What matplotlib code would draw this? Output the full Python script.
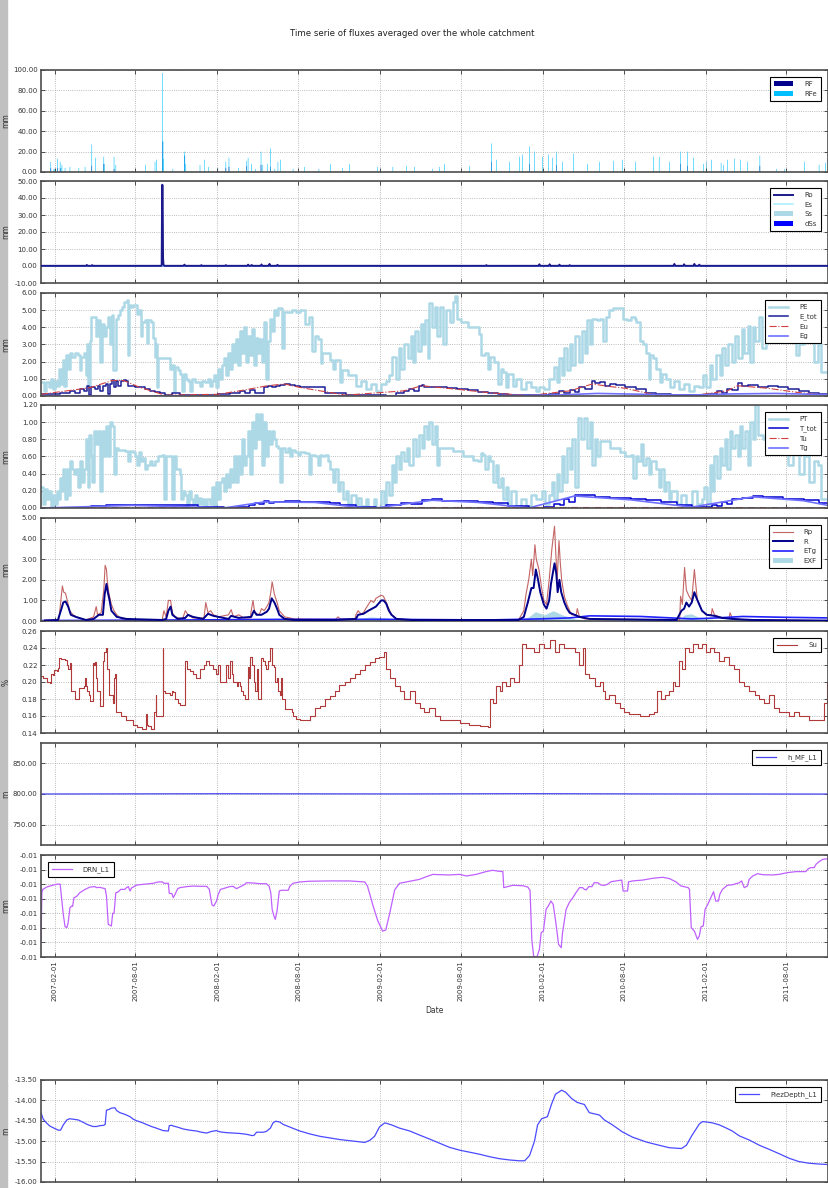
import numpy as np
import matplotlib
matplotlib.use('Agg')
import matplotlib.pyplot as plt
import matplotlib.dates as mdates
from matplotlib.ticker import FormatStrFormatter, MultipleLocator
from matplotlib.patches import Rectangle

# days are counted from the first day of the simulation
START = np.datetime64('2007-01-01')
END = np.datetime64('2011-11-03')

# --- rainfall (mm/day) ---
rfe_points = [(22, 10), (29, 3), (31, 3), (37, 13), (43, 10), (45, 4), (47, 7), (54, 4), (65, 5),
              (85, 4), (99, 5), (114, 27), (122, 14), (141, 15), (142, 8), (164, 15), (168, 7),
              (206, 1), (235, 7), (256, 10), (259, 12), (273, 97), (274, 30), (275, 13), (296, 3),
              (322, 20), (323, 16), (325, 8), (357, 7), (367, 12), (376, 5), (397, 4), (415, 10),
              (422, 14), (444, 4), (462, 11), (465, 14), (473, 8), (482, 3), (494, 20), (498, 7),
              (508, 8), (515, 23), (525, 3), (532, 10), (538, 12), (566, 3), (592, 5), (624, 3),
              (650, 8), (677, 4), (693, 8), (756, 5), (790, 5), (821, 6), (839, 5), (879, 3),
              (895, 5), (906, 8), (962, 6), (1012, 28), (1023, 12), (1052, 10), (1074, 15),
              (1081, 17), (1097, 25), (1108, 20), (1126, 15), (1139, 17), (1148, 14), (1157, 20),
              (1171, 10), (1196, 18), (1227, 8), (1254, 10), (1285, 11), (1305, 12), (1335, 10),
              (1375, 15), (1388, 15), (1411, 10), (1436, 20), (1451, 20), (1465, 14), (1487, 8),
              (1494, 10), (1505, 12), (1527, 9), (1532, 7), (1541, 12), (1557, 13), (1570, 12),
              (1586, 10), (1614, 16), (1651, 3), (1669, 3), (1714, 10), (1747, 7), (1761, 9)]
rf_points = [(22, 4), (37, 4), (43, 4), (114, 6), (141, 8), (164, 3), (273, 30), (322, 16),
             (415, 4), (422, 5), (462, 6), (494, 7), (515, 5), (1012, 10), (1097, 8), (1157, 7),
             (1436, 8), (1451, 6), (1614, 6)]

# --- surface fluxes ---
ro_points = [(0, 0.1), (101, 0.1), (103, 0.6), (105, 0.1), (113, 0.1), (115, 0.5), (117, 0.1),
             (270, 0.1), (271, 0.8), (272, 47.8), (273, 47.5), (274, 4.5), (275, 0.8), (277, 0.1),
             (320, 0.1), (322, 0.8), (324, 0.1), (358, 0.1), (360, 0.5), (362, 0.1), (413, 0.1),
             (415, 0.5), (417, 0.1), (463, 0.1), (465, 0.8), (467, 0.1), (471, 0.1), (473, 0.6),
             (475, 0.1), (493, 0.1), (495, 0.9), (497, 0.1), (511, 0.1), (513, 1.2), (515, 0.1),
             (529, 0.1), (531, 0.7), (533, 0.1), (998, 0.1), (1000, 0.5), (1002, 0.1), (1117, 0.1),
             (1119, 1.0), (1121, 0.1), (1140, 0.1), (1142, 1.0), (1144, 0.1), (1162, 0.1),
             (1164, 0.8), (1166, 0.1), (1185, 0.1), (1187, 0.5), (1189, 0.1), (1420, 0.1),
             (1422, 1.2), (1424, 0.1), (1442, 0.1), (1444, 1.0), (1446, 0.1), (1465, 0.1),
             (1467, 1.2), (1469, 0.1), (1476, 0.1), (1478, 0.8), (1480, 0.1), (1767, 0.1)]
es_points = [(0, 0.05), (272, 0.05), (273, 4.0), (275, 0.05), (1767, 0.05)]
ss_points = [(0, 0.15), (1767, 0.15)]
dss_points = [(0, -0.3), (1767, -0.3)]

# --- evaporation ---
pe_points = [(0, 0.8), (7, 0.3), (11, 0.8), (18, 0.5), (22, 1.0), (27, 0.4), (31, 0.9), (36, 0.6),
             (40, 1.6), (45, 0.7), (49, 2.1), (52, 0.6), (56, 2.4), (61, 1.6), (65, 2.5), (70, 2.3),
             (76, 2.5), (83, 2.4), (87, 1.5), (90, 2.3), (96, 2.5), (101, 1.2), (103, 3.0), (105, 0.5),
             (110, 3.2), (112, 4.6), (119, 4.6), (123, 3.5), (128, 4.4), (132, 2.0), (137, 4.2),
             (141, 3.5), (146, 4.0), (150, 4.6), (155, 3.0), (159, 4.7), (161, 1.5), (168, 4.5),
             (173, 4.7), (177, 5.0), (182, 5.2), (186, 5.5), (193, 5.6), (195, 2.4), (197, 5.3),
             (202, 5.2), (206, 5.3), (211, 5.3), (215, 4.8), (220, 5.0), (224, 3.5), (227, 4.3),
             (233, 4.4), (238, 3.1), (240, 4.4), (247, 4.3), (251, 3.4), (256, 2.3), (258, 3.0),
             (260, 0.5), (262, 2.2), (274, 2.2), (285, 2.2), (289, 1.6), (294, 1.8), (298, 0.3),
             (301, 1.7), (307, 1.5), (312, 1.3), (316, 0.3), (321, 1.3), (325, 1.0), (330, 0.9),
             (334, 0.3), (339, 1.0), (345, 0.8), (352, 0.8), (357, 0.6), (361, 0.9), (368, 0.8),
             (375, 1.0), (379, 0.6), (384, 0.9), (388, 1.2), (393, 0.5), (397, 1.6), (401, 1.0),
             (406, 1.8), (410, 2.2), (415, 1.2), (419, 2.5), (424, 1.6), (428, 3.0), (433, 2.0),
             (437, 3.3), (442, 1.8), (446, 3.8), (451, 2.5), (455, 4.0), (460, 2.0), (464, 3.5),
             (469, 2.4), (473, 3.9), (478, 1.8), (482, 3.4), (487, 2.5), (491, 3.3), (496, 2.0),
             (500, 4.3), (505, 1.0), (509, 3.2), (514, 4.5), (518, 3.8), (523, 5.0), (527, 4.7),
             (532, 5.1), (541, 2.8), (545, 4.9), (554, 4.9), (563, 5.0), (572, 4.9), (581, 5.0),
             (592, 4.2), (601, 4.6), (609, 2.6), (615, 3.5), (621, 3.3), (629, 1.9), (632, 2.5),
             (649, 2.1), (655, 1.6), (661, 2.1), (672, 0.8), (675, 1.5), (689, 1.2), (707, 0.6),
             (718, 0.9), (729, 0.4), (741, 0.7), (752, 0.3), (764, 0.7), (775, 0.9), (781, 1.2),
             (789, 2.3), (796, 1.0), (804, 2.8), (809, 1.6), (815, 3.0), (823, 2.2), (830, 3.5),
             (835, 2.0), (840, 3.8), (846, 2.6), (853, 4.2), (857, 3.0), (863, 4.4), (869, 2.2),
             (872, 5.4), (878, 4.0), (884, 5.2), (889, 3.5), (895, 5.2), (903, 3.0), (910, 5.0),
             (918, 4.3), (924, 5.5), (929, 5.8), (935, 4.5), (944, 4.3), (958, 4.0), (969, 4.0),
             (983, 3.6), (987, 2.4), (998, 2.5), (1004, 1.6), (1009, 2.3), (1017, 2.0), (1027, 0.7),
             (1032, 1.6), (1038, 1.4), (1044, 0.5), (1049, 1.3), (1059, 0.6), (1067, 1.0),
             (1078, 0.4), (1089, 0.8), (1101, 0.5), (1112, 0.3), (1118, 0.5), (1129, 0.4),
             (1141, 1.0), (1152, 1.7), (1158, 0.8), (1164, 2.2), (1169, 1.2), (1175, 2.8),
             (1181, 1.5), (1187, 3.0), (1192, 1.8), (1200, 3.5), (1207, 2.0), (1215, 3.8),
             (1221, 2.5), (1227, 4.4), (1232, 3.0), (1238, 4.5), (1249, 4.4), (1255, 4.5),
             (1261, 3.2), (1269, 4.6), (1276, 5.0), (1284, 5.1), (1301, 5.1), (1307, 4.5),
             (1315, 4.4), (1324, 4.6), (1333, 4.5), (1337, 4.3), (1344, 3.2), (1352, 3.0),
             (1358, 2.5), (1364, 1.0), (1367, 2.4), (1375, 2.2), (1381, 1.6), (1390, 0.8),
             (1395, 1.3), (1404, 1.0), (1413, 0.5), (1421, 0.9), (1432, 0.4), (1444, 0.7),
             (1455, 0.3), (1467, 0.6), (1478, 0.5), (1486, 1.2), (1493, 0.5), (1501, 1.8),
             (1507, 1.0), (1516, 2.4), (1524, 1.2), (1529, 2.8), (1535, 1.8), (1543, 3.0),
             (1552, 2.0), (1558, 3.5), (1564, 2.2), (1573, 3.9), (1579, 2.5), (1587, 4.1),
             (1592, 2.0), (1598, 4.0), (1604, 3.2), (1612, 4.6), (1619, 2.8), (1627, 4.8),
             (1632, 3.5), (1644, 4.7), (1655, 4.5), (1667, 4.0), (1678, 4.3), (1689, 3.8),
             (1695, 2.4), (1701, 3.0), (1712, 3.8), (1724, 3.4), (1735, 2.0), (1744, 3.0),
             (1752, 1.4), (1767, 1.8)]
etot_points = [(0, 0.1), (20, 0.1), (43, 0.15), (54, 0.2), (65, 0.3), (76, 0.2), (87, 0.4),
               (96, 0.3), (103, 0.6), (108, 0.05), (112, 0.5), (121, 0.4), (128, 0.6), (132, 0.3),
               (139, 0.6), (146, 0.7), (150, 0.1), (155, 0.7), (159, 0.95), (164, 0.5), (168, 0.9),
               (173, 0.6), (179, 0.9), (186, 0.95), (191, 0.85), (195, 0.6), (200, 0.6), (211, 0.55),
               (222, 0.5), (233, 0.4), (244, 0.3), (256, 0.25), (267, 0.15), (278, 0.05), (289, 0.05),
               (294, 0.15), (301, 0.15), (312, 0.05), (397, 0.1), (413, 0.1), (424, 0.2), (435, 0.15),
               (446, 0.3), (458, 0.2), (469, 0.35), (480, 0.2), (491, 0.15), (500, 0.5), (509, 0.6),
               (518, 0.5), (527, 0.6), (536, 0.65), (547, 0.7), (559, 0.65), (570, 0.6), (581, 0.5),
               (638, 0.2), (684, 0.05), (775, 0.02), (798, 0.15), (815, 0.3), (827, 0.4), (838, 0.3),
               (849, 0.6), (855, 0.65), (861, 0.55), (872, 0.5), (889, 0.5), (912, 0.45), (935, 0.4),
               (958, 0.35), (981, 0.25), (1004, 0.2), (1027, 0.1), (1049, 0.05), (1095, 0.03),
               (1118, 0.05), (1141, 0.1), (1164, 0.3), (1175, 0.2), (1187, 0.35), (1198, 0.25),
               (1209, 0.5), (1221, 0.4), (1238, 0.85), (1244, 0.75), (1255, 0.8), (1267, 0.6),
               (1278, 0.7), (1290, 0.65), (1312, 0.55), (1335, 0.4), (1358, 0.2), (1381, 0.1),
               (1415, 0.05), (1461, 0.03), (1495, 0.1), (1518, 0.3), (1529, 0.2), (1541, 0.4),
               (1552, 0.35), (1564, 0.75), (1575, 0.6), (1587, 0.65), (1609, 0.55), (1632, 0.6),
               (1655, 0.5), (1678, 0.4), (1701, 0.3), (1724, 0.2), (1747, 0.1), (1767, 0.08)]
eu_points = [(0, 0.1), (87, 0.4), (112, 0.5), (159, 0.9), (186, 0.9), (222, 0.5), (278, 0.05),
             (397, 0.1), (446, 0.3), (509, 0.6), (547, 0.7), (581, 0.5), (684, 0.05), (815, 0.3),
             (855, 0.6), (912, 0.45), (1004, 0.2), (1095, 0.02), (1187, 0.3), (1238, 0.7),
             (1278, 0.55), (1312, 0.45), (1381, 0.05), (1461, 0.02), (1541, 0.3), (1564, 0.6),
             (1632, 0.45), (1701, 0.2), (1767, 0.05)]
eg_points = [(0, 0.01), (1000, 0.01), (1150, 0.05), (1250, 0.15), (1350, 0.1), (1450, 0.05),
             (1550, 0.12), (1650, 0.15), (1767, 0.08)]

# --- transpiration ---
pt_points = [(0, 0.25), (4, 0.05), (9, 0.22), (13, 0.1), (18, 0.2), (22, 0.0), (27, 0.15), (31, 0.05),
             (36, 0.2), (40, 0.1), (43, 0.35), (47, 0.2), (49, 0.45), (54, 0.1), (58, 0.45), (63, 0.15),
             (65, 0.55), (70, 0.45), (74, 0.4), (79, 0.45), (83, 0.25), (87, 0.55), (92, 0.3), (96, 0.45),
             (101, 0.8), (105, 0.25), (108, 0.85), (112, 0.6), (114, 0.3), (119, 0.9), (123, 0.75),
             (128, 0.9), (132, 0.2), (137, 0.9), (141, 0.6), (146, 0.95), (150, 0.6), (155, 1.0),
             (159, 0.95), (164, 0.4), (168, 0.7), (173, 0.68), (188, 0.66), (195, 0.55), (200, 0.66),
             (206, 0.65), (211, 0.6), (215, 0.5), (220, 0.65), (224, 0.55), (229, 0.58), (233, 0.45),
             (238, 0.5), (244, 0.55), (249, 0.5), (256, 0.55), (262, 0.6), (271, 0.62), (276, 0.1),
             (280, 0.6), (289, 0.6), (294, 0.1), (298, 0.6), (303, 0.45), (312, 0.4), (314, 0.1),
             (318, 0.2), (323, 0.15), (327, 0.0), (332, 0.2), (336, 0.1), (341, 0.05), (345, 0.15),
             (350, 0.05), (354, 0.12), (359, 0.05), (363, 0.1), (368, 0.02), (372, 0.1), (379, 0.05),
             (384, 0.25), (388, 0.0), (393, 0.3), (397, 0.1), (401, 0.3), (406, 0.35), (410, 0.2),
             (415, 0.4), (419, 0.25), (424, 0.45), (428, 0.3), (433, 0.6), (437, 0.3), (442, 0.6),
             (446, 0.4), (451, 0.8), (455, 0.5), (460, 0.6), (464, 0.9), (469, 0.4), (473, 1.0),
             (478, 0.7), (482, 1.1), (487, 0.8), (491, 1.1), (496, 0.5), (500, 1.0), (505, 0.6),
             (509, 0.9), (514, 0.75), (518, 0.9), (523, 0.8), (527, 0.72), (532, 0.7), (536, 0.3),
             (541, 0.7), (547, 0.65), (554, 0.7), (559, 0.6), (563, 0.68), (570, 0.65), (576, 0.62),
             (581, 0.65), (592, 0.64), (601, 0.4), (606, 0.62), (615, 0.6), (621, 0.5), (627, 0.62),
             (632, 0.6), (638, 0.62), (644, 0.55), (649, 0.45), (655, 0.3), (661, 0.45), (667, 0.2),
             (672, 0.3), (678, 0.1), (684, 0.2), (689, 0.05), (695, 0.15), (707, 0.0), (712, 0.12),
             (718, 0.02), (729, 0.1), (735, 0.0), (747, 0.1), (752, 0.0), (764, 0.2), (769, 0.05),
             (775, 0.3), (781, 0.15), (789, 0.5), (793, 0.3), (798, 0.6), (804, 0.45), (809, 0.65),
             (815, 0.55), (821, 0.7), (827, 0.5), (835, 0.8), (841, 0.6), (849, 0.85), (855, 0.7),
             (861, 0.95), (867, 0.8), (872, 1.0), (878, 0.75), (884, 0.95), (889, 0.5), (893, 0.7),
             (903, 0.7), (924, 0.66), (947, 0.6), (969, 0.56), (981, 0.55), (987, 0.64), (992, 0.62),
             (998, 0.45), (1004, 0.6), (1009, 0.55), (1015, 0.3), (1021, 0.5), (1027, 0.25),
             (1032, 0.35), (1038, 0.1), (1044, 0.25), (1049, 0.05), (1055, 0.2), (1067, 0.0),
             (1078, 0.1), (1089, 0.02), (1101, 0.15), (1112, 0.1), (1124, 0.2), (1132, 0.05),
             (1141, 0.15), (1147, 0.3), (1152, 0.1), (1158, 0.4), (1164, 0.2), (1169, 0.6),
             (1175, 0.3), (1181, 0.7), (1187, 0.45), (1192, 0.8), (1198, 0.25), (1205, 1.05),
             (1212, 0.8), (1219, 1.05), (1227, 0.7), (1232, 1.0), (1238, 0.5), (1244, 0.8),
             (1249, 0.6), (1255, 0.78), (1278, 0.7), (1301, 0.65), (1312, 0.6), (1324, 0.62),
             (1329, 0.35), (1335, 0.6), (1341, 0.55), (1347, 0.75), (1352, 0.5), (1358, 0.58),
             (1364, 0.4), (1369, 0.55), (1381, 0.45), (1387, 0.25), (1392, 0.45), (1398, 0.2),
             (1404, 0.3), (1409, 0.1), (1415, 0.2), (1427, 0.05), (1438, 0.15), (1449, 0.02),
             (1461, 0.2), (1472, 0.05), (1484, 0.1), (1489, 0.25), (1495, 0.05), (1501, 0.5),
             (1507, 0.2), (1512, 0.6), (1518, 0.35), (1524, 0.7), (1529, 0.5), (1535, 0.8),
             (1541, 0.45), (1547, 0.9), (1552, 0.7), (1558, 0.85), (1564, 0.6), (1569, 0.95),
             (1575, 0.7), (1581, 0.9), (1587, 0.5), (1592, 1.0), (1598, 0.8), (1604, 1.2),
             (1609, 0.85), (1621, 0.8), (1644, 0.75), (1667, 0.85), (1678, 0.5), (1689, 0.7),
             (1701, 0.4), (1712, 0.6), (1724, 0.3), (1735, 0.55), (1744, 0.5), (1752, 0.1),
             (1767, 0.2)]
ttot_points = [(0, 0.0), (90, 0.005), (112, 0.02), (147, 0.03), (204, 0.035), (261, 0.035),
               (318, 0.03), (352, 0.015), (410, 0.0), (432, 0.01), (467, 0.04), (480, 0.06),
               (490, 0.05), (501, 0.08), (512, 0.06), (524, 0.07), (547, 0.08), (581, 0.07),
               (615, 0.07), (649, 0.06), (672, 0.03), (707, 0.01), (752, 0.0), (775, 0.03),
               (809, 0.06), (830, 0.05), (855, 0.09), (878, 0.1), (901, 0.08), (947, 0.08),
               (981, 0.07), (1015, 0.06), (1049, 0.02), (1095, 0.0), (1129, 0.01), (1152, 0.05),
               (1165, 0.03), (1175, 0.1), (1185, 0.07), (1198, 0.15), (1221, 0.15), (1244, 0.13),
               (1278, 0.12), (1324, 0.1), (1358, 0.09), (1392, 0.07), (1427, 0.03), (1461, 0.01),
               (1484, 0.01), (1507, 0.04), (1518, 0.02), (1529, 0.07), (1540, 0.05), (1552, 0.1),
               (1575, 0.12), (1598, 0.14), (1621, 0.13), (1667, 0.11), (1712, 0.09), (1747, 0.06),
               (1767, 0.03)]
tu_points = [(0, 0.002), (500, 0.005), (1200, 0.006), (1600, 0.005), (1767, 0.002)]
tg_points = [(0, 0.0), (204, 0.03), (352, 0.01), (410, 0.0), (501, 0.07), (615, 0.065), (707, 0.01),
             (752, 0.0), (878, 0.09), (981, 0.065), (1095, 0.0), (1198, 0.14), (1324, 0.095),
             (1461, 0.01), (1598, 0.13), (1712, 0.085), (1767, 0.03)]

# --- recharge and exfiltration ---
rp_points = [(9, 0.05), (40, 0.05), (46, 1.3), (48, 1.7), (51, 1.4), (55, 1.35), (60, 0.9), (64, 0.5),
             (72, 0.3), (84, 0.15), (101, 0.05), (118, 0.2), (124, 0.7), (127, 0.3), (135, 0.4),
             (141, 1.5), (144, 2.7), (147, 2.5), (149, 1.9), (152, 1.4), (158, 0.8), (164, 0.5),
             (170, 0.3), (181, 0.1), (204, 0.05), (272, 0.05), (276, 0.5), (281, 0.2), (286, 1.0),
             (291, 1.0), (295, 0.4), (301, 0.2), (318, 0.1), (324, 0.5), (330, 0.3), (341, 0.15),
             (366, 0.15), (370, 0.9), (375, 0.4), (381, 0.5), (387, 0.3), (398, 0.2), (421, 0.3),
             (427, 0.55), (432, 0.2), (444, 0.3), (455, 0.15), (470, 0.15), (472, 0.5), (476, 1.0),
             (480, 0.4), (490, 0.3), (495, 0.6), (501, 0.5), (507, 0.7), (512, 0.9), (516, 1.4),
             (519, 1.9), (524, 1.3), (530, 0.9), (535, 0.5), (547, 0.2), (569, 0.1), (661, 0.08),
             (667, 0.2), (672, 0.1), (705, 0.1), (707, 0.3), (712, 0.5), (718, 0.35), (724, 0.4),
             (729, 0.6), (735, 0.8), (741, 1.0), (747, 0.9), (752, 1.1), (764, 1.25), (769, 1.2),
             (775, 0.9), (781, 0.6), (787, 0.3), (798, 0.1), (832, 0.05), (1072, 0.05), (1084, 0.5),
             (1089, 1.3), (1095, 2.0), (1101, 3.0), (1104, 2.2), (1109, 3.7), (1112, 3.0),
             (1118, 2.5), (1124, 1.6), (1129, 1.0), (1135, 0.8), (1141, 2.0), (1147, 3.5),
             (1153, 4.6), (1156, 3.2), (1159, 2.0), (1163, 3.9), (1166, 2.8), (1169, 2.0),
             (1175, 1.2), (1181, 0.8), (1187, 0.5), (1192, 0.3), (1202, 0.3), (1204, 0.6),
             (1209, 0.2), (1221, 0.1), (1427, 0.05), (1434, 0.05), (1436, 1.2), (1440, 0.8),
             (1445, 2.6), (1449, 1.5), (1455, 1.2), (1461, 1.0), (1467, 2.5), (1470, 1.8),
             (1474, 1.0), (1484, 0.5), (1493, 0.3), (1505, 0.3), (1507, 0.6), (1512, 0.3),
             (1529, 0.15), (1545, 0.15), (1547, 0.4), (1552, 0.15), (1575, 0.05), (1767, 0.02)]
r_points = [(9, 0.02), (38, 0.05), (46, 0.6), (50, 0.9), (55, 0.95), (61, 0.7), (67, 0.3), (78, 0.2),
            (101, 0.05), (118, 0.1), (130, 0.3), (139, 0.3), (143, 1.3), (147, 1.8), (150, 1.4),
            (154, 1.0), (158, 0.5), (170, 0.2), (192, 0.1), (272, 0.05), (281, 0.1), (286, 0.5),
            (291, 0.7), (295, 0.3), (307, 0.1), (324, 0.15), (330, 0.3), (341, 0.2), (364, 0.1),
            (375, 0.35), (387, 0.25), (421, 0.1), (427, 0.25), (444, 0.15), (472, 0.2), (478, 0.5),
            (484, 0.3), (495, 0.3), (507, 0.45), (512, 0.6), (518, 1.1), (524, 0.9), (530, 0.6),
            (535, 0.3), (547, 0.1), (569, 0.05), (661, 0.05), (707, 0.1), (712, 0.3), (724, 0.35),
            (735, 0.5), (752, 0.7), (764, 1.0), (769, 1.0), (775, 0.85), (781, 0.5), (787, 0.3),
            (798, 0.1), (832, 0.05), (1072, 0.05), (1084, 0.2), (1093, 0.9), (1101, 1.6),
            (1106, 1.6), (1111, 2.5), (1116, 2.0), (1121, 1.4), (1129, 0.8), (1135, 0.6),
            (1141, 1.0), (1145, 1.8), (1153, 2.8), (1157, 2.3), (1160, 1.4), (1164, 2.0),
            (1168, 1.4), (1175, 0.9), (1181, 0.6), (1187, 0.4), (1198, 0.3), (1209, 0.2),
            (1232, 0.1), (1427, 0.05), (1438, 0.5), (1444, 0.6), (1449, 0.9), (1455, 0.7),
            (1461, 0.9), (1467, 1.4), (1472, 1.1), (1478, 0.8), (1484, 0.5), (1495, 0.3),
            (1512, 0.25), (1529, 0.15), (1552, 0.1), (1598, 0.05), (1767, 0.02)]
etg_points = [(0, 0.02), (318, 0.05), (547, 0.08), (775, 0.08), (1004, 0.05), (1118, 0.1),
              (1187, 0.15), (1232, 0.25), (1347, 0.22), (1415, 0.15), (1461, 0.1), (1518, 0.15),
              (1575, 0.22), (1667, 0.18), (1767, 0.15)]
exf_points = [(0, 0.0), (700, 0.0), (707, 0.1), (740, 0.2), (775, 0.15), (800, 0.02), (1080, 0.0),
              (1095, 0.2), (1110, 0.45), (1130, 0.3), (1150, 0.5), (1170, 0.3), (1200, 0.1),
              (1230, 0.05), (1430, 0.02), (1445, 0.3), (1460, 0.35), (1480, 0.15), (1520, 0.05),
              (1767, 0.02)]

# --- soil moisture ---
su_points = [(0, 0.207), (5, 0.205), (13, 0.200), (20, 0.199), (22, 0.210), (28, 0.208), (30, 0.214),
             (35, 0.213), (39, 0.217), (41, 0.228), (46, 0.227), (54, 0.226), (58, 0.220), (61, 0.215),
             (65, 0.222), (67, 0.190), (72, 0.190), (76, 0.180), (84, 0.180), (86, 0.193), (91, 0.193),
             (96, 0.195), (99, 0.205), (101, 0.195), (104, 0.190), (108, 0.185), (111, 0.178),
             (114, 0.178), (116, 0.222), (119, 0.220), (121, 0.223), (123, 0.205), (126, 0.190),
             (129, 0.190), (132, 0.172), (138, 0.172), (140, 0.225), (142, 0.235), (146, 0.240),
             (149, 0.215), (152, 0.200), (153, 0.185), (158, 0.185), (162, 0.175), (164, 0.205),
             (167, 0.210), (169, 0.165), (173, 0.165), (179, 0.160), (186, 0.160), (191, 0.155),
             (200, 0.155), (206, 0.150), (215, 0.147), (226, 0.145), (233, 0.145), (235, 0.162),
             (238, 0.150), (241, 0.148), (248, 0.145), (252, 0.145), (254, 0.165), (258, 0.185),
             (259, 0.160), (271, 0.160), (273, 0.240), (275, 0.190), (278, 0.187), (286, 0.187),
             (289, 0.185), (295, 0.190), (297, 0.188), (301, 0.180), (308, 0.175), (312, 0.173),
             (319, 0.173), (323, 0.225), (327, 0.215), (334, 0.213), (342, 0.210), (349, 0.205),
             (355, 0.205), (357, 0.215), (366, 0.220), (370, 0.225), (378, 0.220), (387, 0.215),
             (394, 0.210), (398, 0.220), (401, 0.200), (415, 0.200), (416, 0.220), (420, 0.205),
             (424, 0.225), (428, 0.210), (431, 0.200), (440, 0.195), (443, 0.200), (446, 0.195),
             (450, 0.190), (454, 0.185), (458, 0.180), (461, 0.180), (464, 0.218), (467, 0.205),
             (470, 0.230), (474, 0.220), (478, 0.200), (481, 0.190), (484, 0.215), (487, 0.180),
             (490, 0.180), (493, 0.228), (499, 0.225), (503, 0.220), (506, 0.215), (510, 0.225),
             (515, 0.240), (518, 0.220), (523, 0.218), (526, 0.200), (530, 0.205), (533, 0.190),
             (536, 0.185), (538, 0.205), (542, 0.180), (547, 0.168), (558, 0.168), (564, 0.165),
             (566, 0.160), (573, 0.157), (581, 0.155), (592, 0.155), (603, 0.160), (615, 0.170),
             (626, 0.172), (637, 0.180), (648, 0.184), (659, 0.190), (670, 0.196), (682, 0.200),
             (693, 0.205), (704, 0.210), (716, 0.214), (727, 0.220), (738, 0.224), (749, 0.228),
             (760, 0.230), (769, 0.235), (774, 0.215), (783, 0.205), (794, 0.195), (805, 0.190),
             (816, 0.180), (828, 0.190), (839, 0.175), (850, 0.170), (861, 0.165), (872, 0.170),
             (884, 0.160), (895, 0.155), (917, 0.155), (940, 0.152), (962, 0.150), (985, 0.148),
             (1003, 0.147), (1007, 0.180), (1014, 0.175), (1021, 0.195), (1030, 0.190),
             (1036, 0.200), (1045, 0.195), (1052, 0.205), (1063, 0.200), (1074, 0.220),
             (1081, 0.245), (1090, 0.240), (1097, 0.240), (1108, 0.235), (1119, 0.245),
             (1130, 0.240), (1142, 0.250), (1153, 0.235), (1164, 0.245), (1175, 0.240),
             (1187, 0.240), (1198, 0.235), (1209, 0.220), (1216, 0.240), (1222, 0.210),
             (1231, 0.205), (1243, 0.195), (1254, 0.200), (1261, 0.190), (1267, 0.180),
             (1276, 0.185), (1288, 0.175), (1299, 0.170), (1310, 0.165), (1321, 0.162),
             (1344, 0.160), (1366, 0.162), (1377, 0.165), (1384, 0.190), (1391, 0.180),
             (1400, 0.185), (1411, 0.190), (1418, 0.200), (1424, 0.195), (1433, 0.225),
             (1440, 0.215), (1447, 0.240), (1456, 0.235), (1465, 0.245), (1474, 0.240),
             (1483, 0.245), (1492, 0.235), (1501, 0.240), (1512, 0.235), (1523, 0.225),
             (1534, 0.230), (1545, 0.220), (1557, 0.215), (1568, 0.200), (1579, 0.195),
             (1590, 0.190), (1602, 0.185), (1613, 0.180), (1624, 0.175), (1635, 0.185),
             (1646, 0.170), (1658, 0.165), (1669, 0.165), (1680, 0.160), (1691, 0.165),
             (1702, 0.160), (1714, 0.160), (1725, 0.155), (1736, 0.155), (1747, 0.155),
             (1759, 0.175), (1765, 0.200)]

# --- groundwater head, drainage, piezometric depth ---
hmf_points = [(0, 800.0), (400, 800.4), (800, 800.1), (1100, 800.5), (1400, 800.1), (1767, 799.9)]
drn_points = [(0, -0.01290), (2, -0.00959), (4, -0.00936), (13, -0.00920), (20, -0.00913),
              (28, -0.00906), (39, -0.00899), (43, -0.00901), (45, -0.00959), (50, -0.01107),
              (54, -0.01192), (58, -0.01199), (61, -0.01165), (65, -0.01062), (69, -0.01050),
              (71, -0.01052), (74, -0.00993), (78, -0.00988), (81, -0.00981), (87, -0.00959),
              (99, -0.00936), (110, -0.00920), (121, -0.00917), (125, -0.00924), (132, -0.00922),
              (144, -0.00931), (147, -0.00981), (151, -0.01176), (158, -0.01187), (161, -0.01100),
              (164, -0.01100), (168, -0.00959), (173, -0.00954), (179, -0.00936), (188, -0.00936),
              (192, -0.00924), (196, -0.00917), (200, -0.00947), (203, -0.00927), (211, -0.00913),
              (215, -0.00906), (230, -0.00901), (252, -0.00894), (263, -0.00885), (273, -0.00885),
              (276, -0.00894), (286, -0.00894), (288, -0.00963), (294, -0.00965), (297, -0.00993),
              (301, -0.00970), (307, -0.00931), (312, -0.00924), (327, -0.00917), (342, -0.00913),
              (357, -0.00915), (372, -0.00915), (378, -0.00936), (381, -0.00993), (384, -0.01043),
              (388, -0.01050), (394, -0.01016), (398, -0.00970), (403, -0.00936), (409, -0.00931),
              (416, -0.00924), (424, -0.00917), (431, -0.00915), (439, -0.00931), (446, -0.00920),
              (458, -0.00901), (461, -0.00890), (476, -0.00892), (491, -0.00897), (506, -0.00897),
              (512, -0.00913), (516, -0.00959), (519, -0.01073), (523, -0.01119), (526, -0.01142),
              (530, -0.01084), (535, -0.00947), (540, -0.00942), (555, -0.00942), (559, -0.00913),
              (566, -0.00894), (581, -0.00885), (603, -0.00880), (648, -0.00878), (693, -0.00878),
              (727, -0.00885), (733, -0.00913), (745, -0.01043), (756, -0.01150), (767, -0.01222),
              (774, -0.01215), (783, -0.01100), (794, -0.00940), (805, -0.00894), (820, -0.00885),
              (835, -0.00876), (850, -0.00867), (865, -0.00849), (880, -0.00833), (895, -0.00835),
              (917, -0.00837), (940, -0.00833), (955, -0.00844), (977, -0.00833), (999, -0.00814),
              (1014, -0.00805), (1029, -0.00812), (1037, -0.00814), (1039, -0.00924),
              (1044, -0.00920), (1059, -0.00908), (1082, -0.00911), (1093, -0.00920),
              (1098, -0.00943), (1102, -0.01279), (1106, -0.01393), (1113, -0.01405),
              (1119, -0.01348), (1123, -0.01233), (1128, -0.01222), (1134, -0.01073),
              (1139, -0.01050), (1145, -0.01016), (1150, -0.01039), (1156, -0.01165),
              (1162, -0.01313), (1168, -0.01336), (1171, -0.01233), (1179, -0.01073),
              (1186, -0.01027), (1194, -0.00993), (1201, -0.00959), (1209, -0.00924),
              (1216, -0.00924), (1220, -0.00936), (1224, -0.00940), (1230, -0.00917),
              (1237, -0.00917), (1242, -0.00890), (1250, -0.00890), (1257, -0.00906),
              (1265, -0.00908), (1272, -0.00901), (1280, -0.00883), (1291, -0.00878),
              (1304, -0.00872), (1307, -0.00947), (1317, -0.00947), (1319, -0.00885),
              (1328, -0.00878), (1351, -0.00872), (1373, -0.00860), (1396, -0.00853),
              (1411, -0.00862), (1426, -0.00885), (1437, -0.00913), (1448, -0.00920),
              (1453, -0.00924), (1456, -0.00936), (1460, -0.01199), (1467, -0.01222),
              (1474, -0.01279), (1478, -0.01256), (1482, -0.01192), (1487, -0.01187),
              (1491, -0.01073), (1497, -0.01039), (1504, -0.00993), (1510, -0.00952),
              (1515, -0.01016), (1521, -0.01016), (1524, -0.00970), (1530, -0.00936),
              (1541, -0.00908), (1553, -0.00904), (1568, -0.00890), (1573, -0.00878),
              (1579, -0.00924), (1586, -0.00913), (1590, -0.00867), (1598, -0.00844),
              (1609, -0.00828), (1620, -0.00835), (1642, -0.00837), (1657, -0.00833),
              (1676, -0.00821), (1695, -0.00814), (1717, -0.00814), (1723, -0.00794),
              (1728, -0.00787), (1736, -0.00787), (1740, -0.00764), (1746, -0.00748),
              (1755, -0.00730), (1767, -0.00725)]
piez_points = [(0, -14.30), (5, -14.46), (13, -14.56), (20, -14.63), (31, -14.69), (39, -14.73),
               (44, -14.73), (50, -14.60), (58, -14.48), (64, -14.45), (72, -14.46), (84, -14.48),
               (95, -14.54), (106, -14.60), (117, -14.64), (125, -14.64), (132, -14.62),
               (141, -14.61), (144, -14.59), (147, -14.24), (153, -14.22), (158, -14.19),
               (166, -14.18), (170, -14.25), (177, -14.30), (188, -14.34), (200, -14.40),
               (207, -14.46), (215, -14.50), (226, -14.54), (237, -14.59), (248, -14.64),
               (259, -14.68), (274, -14.74), (286, -14.75), (288, -14.62), (293, -14.61),
               (298, -14.63), (308, -14.66), (319, -14.70), (334, -14.73), (349, -14.75),
               (360, -14.78), (372, -14.80), (383, -14.76), (394, -14.74), (401, -14.77),
               (416, -14.79), (431, -14.80), (446, -14.81), (461, -14.83), (473, -14.86),
               (478, -14.86), (484, -14.78), (499, -14.78), (506, -14.76), (515, -14.68),
               (521, -14.55), (527, -14.51), (536, -14.53), (544, -14.59), (558, -14.65),
               (570, -14.70), (581, -14.75), (603, -14.82), (626, -14.88), (671, -14.96),
               (704, -15.00), (727, -15.03), (738, -14.98), (749, -14.88), (760, -14.65),
               (772, -14.55), (787, -14.60), (805, -14.68), (828, -14.75), (850, -14.85),
               (873, -14.95), (895, -15.05), (917, -15.15), (940, -15.22), (962, -15.27),
               (985, -15.32), (1007, -15.38), (1030, -15.43), (1052, -15.46), (1074, -15.48),
               (1086, -15.48), (1097, -15.35), (1108, -15.00), (1115, -14.60), (1124, -14.45),
               (1137, -14.40), (1146, -14.10), (1155, -13.85), (1169, -13.75), (1178, -13.80),
               (1191, -13.95), (1204, -14.05), (1220, -14.10), (1231, -14.30), (1254, -14.36),
               (1265, -14.48), (1283, -14.60), (1305, -14.77), (1328, -14.90), (1359, -15.02),
               (1388, -15.10), (1411, -15.16), (1438, -15.18), (1449, -15.10), (1462, -14.85),
               (1478, -14.58), (1485, -14.52), (1494, -14.53), (1507, -14.55), (1523, -14.60),
               (1539, -14.68), (1552, -14.75), (1568, -14.87), (1590, -14.97), (1613, -15.10),
               (1635, -15.20), (1658, -15.31), (1680, -15.42), (1702, -15.50), (1725, -15.54),
               (1747, -15.56), (1765, -15.57)]


def series(points):
    arr = np.array(points, dtype=float)
    dates = START + arr[:, 0].astype(int).astype('timedelta64[D]')
    return dates, arr[:, 1]


def style_axis(ax, ylabel):
    ax.set_xlim(START, END)
    ax.grid(True, linestyle=':', color='#a6a6a6', linewidth=0.6)
    for s in ax.spines.values():
        s.set_color('#4d4d4d')
        s.set_linewidth(1.2)
    ax.tick_params(direction='in', top=True, right=True, length=3, width=0.6, pad=2.5,
                   labelsize=5, labelcolor='#333333', color='#333333')
    ax.xaxis.set_major_locator(mdates.MonthLocator(bymonth=(2, 8)))
    ax.xaxis.set_major_formatter(mdates.DateFormatter('%Y-%m-%d'))
    ax.yaxis.set_major_formatter(FormatStrFormatter('%.2f'))
    ax.set_ylabel(ylabel, fontsize=5.5, color='#333333')
    ax.yaxis.set_label_coords(-0.039, 0.5)
    ax.tick_params(axis='x', labelbottom=False)


def add_legend(ax, loc='upper right', handles=None, labels=None):
    if handles is None:
        handles, labels = ax.get_legend_handles_labels()
    leg = ax.legend(handles, labels, loc=loc, fontsize=5, fancybox=False, framealpha=1,
                    edgecolor='black', handlelength=2.8, handletextpad=1.6, borderpad=0.6,
                    labelspacing=0.5, borderaxespad=1.0)
    leg.get_frame().set_linewidth(0.8)
    for t in leg.get_texts():
        t.set_color('#333333')


W, H = 829, 1188
fig = plt.figure(figsize=(W / 100, H / 100), dpi=100)
fig.add_artist(Rectangle((0, 0), 7 / W, 1, transform=fig.transFigure, color='#c0c0c0', zorder=0))

# panel frames in pixels (top, bottom)
boxes = [(70, 172), (181, 283), (293, 396), (405, 508), (518, 621),
         (631, 733), (743, 845), (855, 957), (1080, 1182)]
axes = [fig.add_axes([41 / W, 1 - b / H, 787 / W, (b - t) / H]) for t, b in boxes]

fig.text(0.497, 1 - 34 / H, 'Time serie of fluxes averaged over the whole catchment',
         ha='center', va='center', fontsize=6.2, color='#222222')

# rainfall
ax = axes[0]
d, v = series(rf_points)
ax.bar(d, v, width=1.2, color='#00008b', linewidth=0, snap=False, label='RF')
d, v = series(rfe_points)
ax.bar(d, v, width=1.2, color='#00bfff', linewidth=0, snap=False, label='RFe')
ax.set_ylim(0, 100)
ax.yaxis.set_major_locator(MultipleLocator(20))
style_axis(ax, 'mm')
add_legend(ax)

# runoff and surface storage
ax = axes[1]
d, v = series(ss_points)
ax.fill_between(d, 0, v, color='lightblue', linewidth=0, label='Ss', zorder=1)
d, v = series(dss_points)
ax.fill_between(d, 0, v, color='blue', linewidth=0, label='dSs', zorder=1)
d, v = series(es_points)
ax.plot(d, v, color='#b0eeff', lw=1.2, label='Es', zorder=2)
d, v = series(ro_points)
ax.plot(d, v, color='#1a1a8c', lw=1.4, label='Ro', zorder=3)
ax.set_ylim(-10, 50)
ax.yaxis.set_major_locator(MultipleLocator(10))
style_axis(ax, 'mm')
h, l = ax.get_legend_handles_labels()
order = [l.index(n) for n in ('Ro', 'Es', 'Ss', 'dSs')]
add_legend(ax, handles=[h[i] for i in order], labels=[l[i] for i in order])

# evaporation
ax = axes[2]
d, v = series(pe_points)
ax.plot(d, v, color='lightblue', lw=1.8, drawstyle='steps-post', label='PE')
d, v = series(etot_points)
ax.plot(d, v, color='#1c1c96', lw=1.1, drawstyle='steps-post', label='E_tot')
d, v = series(eu_points)
ax.plot(d, v, color='#d04040', lw=0.8, linestyle='-.', label='Eu')
d, v = series(eg_points)
ax.plot(d, v, color='#7070ff', lw=1.2, label='Eg')
ax.set_ylim(0, 6)
ax.yaxis.set_major_locator(MultipleLocator(1))
style_axis(ax, 'mm')
add_legend(ax)

# transpiration
ax = axes[3]
d, v = series(pt_points)
ax.plot(d, v, color='lightblue', lw=1.8, drawstyle='steps-post', label='PT')
d, v = series(ttot_points)
ax.plot(d, v, color='#0000d0', lw=1.1, drawstyle='steps-post', label='T_tot')
d, v = series(tu_points)
ax.plot(d, v, color='#d04040', lw=0.8, linestyle='-.', label='Tu')
d, v = series(tg_points)
ax.plot(d, v, color='#7070ff', lw=1.2, label='Tg')
ax.set_ylim(0, 1.2)
ax.yaxis.set_major_locator(MultipleLocator(0.2))
style_axis(ax, 'mm')
add_legend(ax)

# recharge
ax = axes[4]
d, v = series(exf_points)
ax.fill_between(d, 0, v, color='lightblue', linewidth=0, label='EXF', zorder=1)
d, v = series(rp_points)
ax.plot(d, v, color='#b03030', lw=0.8, alpha=0.75, label='Rp', zorder=2)
d, v = series(r_points)
ax.plot(d, v, color='#00008b', lw=1.4, label='R', zorder=3)
d, v = series(etg_points)
ax.plot(d, v, color='#2020ff', lw=1.2, label='ETg', zorder=2)
ax.set_ylim(0, 5)
ax.yaxis.set_major_locator(MultipleLocator(1))
style_axis(ax, 'mm')
h, l = ax.get_legend_handles_labels()
order = [l.index(n) for n in ('Rp', 'R', 'ETg', 'EXF')]
add_legend(ax, handles=[h[i] for i in order], labels=[l[i] for i in order])

# soil moisture
ax = axes[5]
d, v = series(su_points)
ax.plot(d, v, color='#b03a3a', lw=0.8, drawstyle='steps-post', label='Su')
ax.set_ylim(0.14, 0.26)
ax.yaxis.set_major_locator(MultipleLocator(0.02))
style_axis(ax, '%')
add_legend(ax)

# groundwater head
ax = axes[6]
d, v = series(hmf_points)
ax.plot(d, v, color='#4444ee', lw=0.9, label='h_MF_L1')
ax.set_ylim(716.5, 883.5)
ax.yaxis.set_major_locator(MultipleLocator(50))
style_axis(ax, 'm')
add_legend(ax)

# drainage
ax = axes[7]
d, v = series(drn_points)
ax.plot(d, v, color='#c060ff', lw=0.9, label='DRN_L1')
ax.set_ylim(-0.014, -0.007)
ax.yaxis.set_major_locator(MultipleLocator(0.001))
style_axis(ax, 'mm')
add_legend(ax, loc='upper left')
ax.tick_params(axis='x', labelbottom=True)
for lab in ax.get_xticklabels():
    lab.set_rotation(90)
ax.set_xlabel('Date', fontsize=5.5, color='#333333', labelpad=3)

# piezometric depth
ax = axes[8]
d, v = series(piez_points)
ax.plot(d, v, color='#4a4aff', lw=0.9, label='PiezDepth_L1')
ax.set_ylim(-16, -13.5)
ax.yaxis.set_major_locator(MultipleLocator(0.5))
style_axis(ax, 'm')
add_legend(ax)

fig.savefig('out.png', dpi=100)
